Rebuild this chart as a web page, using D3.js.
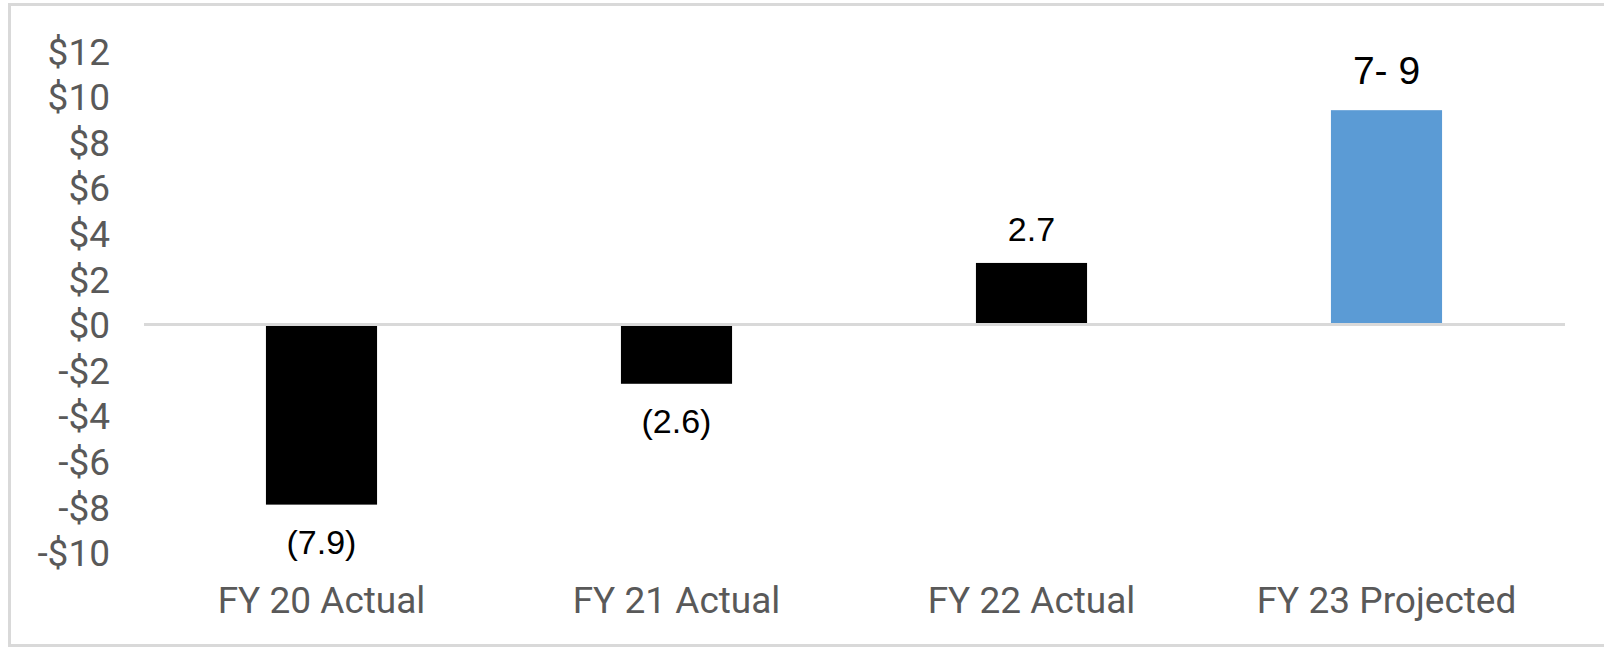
<!DOCTYPE html>
<html>
<head>
<meta charset="utf-8">
<script src="https://cdn.jsdelivr.net/npm/d3@7"></script>
<style>
  html, body { margin: 0; padding: 0; background: #fff; }
  svg { display: block; }
</style>
</head>
<body>
<svg id="chart" width="1604" height="648"></svg>
<script>
// ---- data ----
const categories = ["FY 20 Actual", "FY 21 Actual", "FY 22 Actual", "FY 23 Projected"];
const values = [-7.9, -2.6, 2.7, 9.4];
const valueLabels = ["(7.9)", "(2.6)", "2.7", "7- 9"];
const yTicks = [-10, -8, -6, -4, -2, 0, 2, 4, 6, 8, 10, 12];

// ---- styles ----
const barColors = ["#000000", "#000000", "#000000", "#5b9bd5"];
const labelSizes = [34, 34, 34, 39];

// ---- layout ----
const W = 1604, H = 648;
const plotLeft = 144, plotRight = 1564;
const svg = d3.select("#chart");

// outer border
svg.append("rect")
  .attr("x", 9.5).attr("y", 4.5)
  .attr("width", W - 9.5 + 10).attr("height", 641)
  .attr("fill", "#fff")
  .attr("stroke", "#d9d9d9").attr("stroke-width", 3);

const x = d3.scaleBand()
  .domain(categories)
  .range([plotLeft, plotRight])
  .paddingInner(0.687)
  .paddingOuter(0.3435);

const y = d3.scaleLinear()
  .domain([-10, 12])
  .range([552.5, 50.9]);

// y axis labels
const fmt = d => d < 0 ? "-$" + (-d) : "$" + d;
const yAxis = svg.append("g")
  .attr("transform", "translate(110,0)")
  .call(d3.axisLeft(y).tickValues(yTicks).tickFormat(fmt).tickSize(0).tickPadding(0));
yAxis.select(".domain").remove();
yAxis.selectAll("text")
  .attr("font-family", "Roboto, sans-serif")
  .attr("font-size", 37)
  .attr("fill", "#595959")
  .attr("dy", "0.355em");

// bars
svg.append("g").selectAll("rect")
  .data(categories)
  .join("rect")
  .attr("x", d => x(d))
  .attr("width", x.bandwidth())
  .attr("y", (d, i) => y(Math.max(0, values[i])))
  .attr("height", (d, i) => Math.abs(y(values[i]) - y(0)))
  .attr("fill", (d, i) => barColors[i]);

// zero line
svg.append("line")
  .attr("x1", plotLeft).attr("x2", plotRight + 1)
  .attr("y1", y(0)).attr("y2", y(0))
  .attr("stroke", "#d9d9d9").attr("stroke-width", 3);

// category axis
const xAxis = svg.append("g")
  .attr("transform", "translate(0,587)")
  .call(d3.axisBottom(x).tickSize(0).tickPadding(0));
xAxis.select(".domain").remove();
xAxis.selectAll("text")
  .attr("font-family", "Roboto, sans-serif")
  .attr("font-size", 37)
  .attr("fill", "#595959");

// value labels
svg.append("g").selectAll("text")
  .data(categories)
  .join("text")
  .attr("x", d => x(d) + x.bandwidth() / 2)
  .attr("y", (d, i) => values[i] >= 0
      ? y(values[i]) - labelSizes[i] * 0.66
      : y(values[i]) + 49)
  .attr("text-anchor", "middle")
  .attr("font-family", "'Liberation Sans', Arial, sans-serif")
  .attr("font-size", (d, i) => labelSizes[i])
  .attr("fill", "#000")
  .attr("xml:space", "preserve")
  .text((d, i) => valueLabels[i]);
</script>
</body>
</html>
